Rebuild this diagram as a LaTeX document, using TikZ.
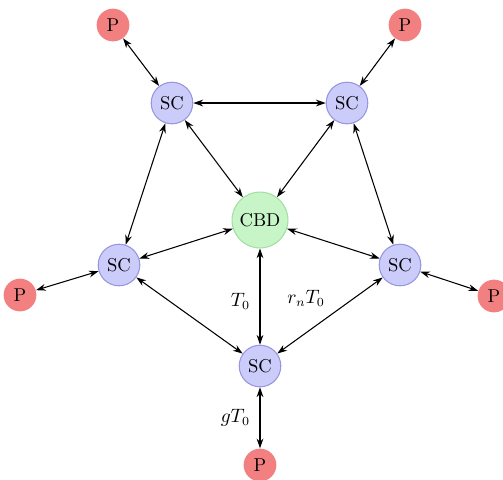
\documentclass[tikz,border=0pt]{standalone}
\usetikzlibrary{arrows.meta}
\definecolor{scfill}{RGB}{204,204,250}
\definecolor{scdraw}{RGB}{150,150,225}
\definecolor{cbdfill}{RGB}{200,245,200}
\definecolor{cbddraw}{RGB}{160,225,160}
\definecolor{pfill}{RGB}{242,128,128}
\begin{document}
\begin{tikzpicture}[x=0.565pt,y=-0.565pt,
  every node/.style={font=\fontsize{10.5}{12}\selectfont},
  scnode/.style={circle,fill=scfill,draw=scdraw,line width=0.6pt,minimum size=23.5pt,inner sep=0pt},
  cbdnode/.style={circle,fill=cbdfill,draw=cbddraw,line width=0.6pt,minimum size=31.6pt,inner sep=0pt},
  pnode/.style={circle,fill=pfill,minimum size=18.5pt,inner sep=0pt},
  link/.style={{Stealth[length=5.5pt,width=3.8pt]}-{Stealth[length=5.5pt,width=3.8pt]},line width=0.6pt}]
\useasboundingbox (0,0) rectangle (503,479);
\node[cbdnode] (cbd) at (260,220) {CBD};
\node[scnode] (sctl) at (172,103) {SC};
\node[scnode] (sctr) at (347,103) {SC};
\node[scnode] (scl) at (119,265) {SC};
\node[scnode] (scr) at (400,265) {SC};
\node[scnode] (scb) at (260,366) {SC};
\node[pnode] (ptl) at (113,25) {P};
\node[pnode] (ptr) at (405,25) {P};
\node[pnode] (pl) at (20,295) {P};
\node[pnode] (pr) at (494,296) {P};
\node[pnode] (pb) at (260,465) {P};
\draw[link] (sctl) -- (sctr);
\draw[link] (sctl) -- (scl);
\draw[link] (sctr) -- (scr);
\draw[link] (scl) -- (scb);
\draw[link] (scr) -- node[pos=0.5,xshift=-13.5pt,yshift=9.6pt] {$r_nT_0$} (scb);
\draw[link] (sctl) -- (cbd);
\draw[link] (sctr) -- (cbd);
\draw[link] (scl) -- (cbd);
\draw[link] (scr) -- (cbd);
\draw[link] (cbd) -- node[pos=0.55,left=2pt] {$T_0$} (scb);
\draw[link] (ptl) -- (sctl);
\draw[link] (ptr) -- (sctr);
\draw[link] (pl) -- (scl);
\draw[link] (pr) -- (scr);
\draw[link] (scb) -- node[left=2pt] {$gT_0$} (pb);
\end{tikzpicture}
\end{document}
